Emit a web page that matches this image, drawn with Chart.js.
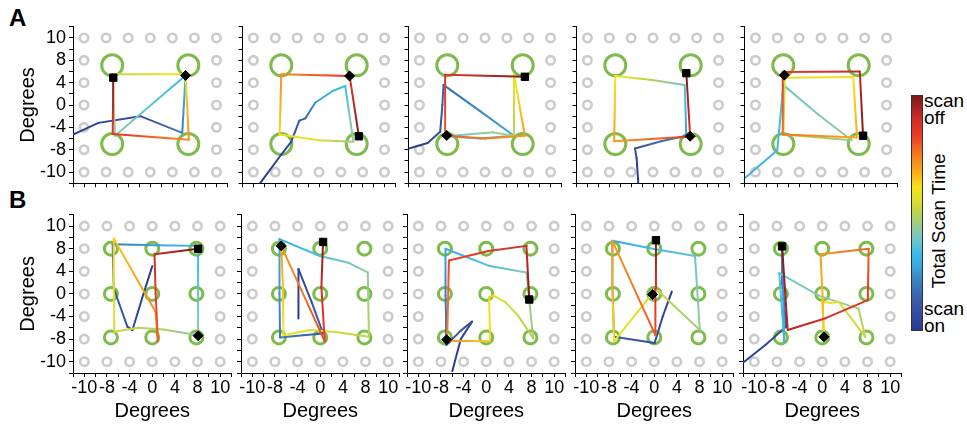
<!DOCTYPE html>
<html>
<head>
<meta charset="utf-8">
<script src="https://cdn.jsdelivr.net/npm/chart.js@4.4.1/dist/chart.umd.min.js"></script>
<style>
  body { margin: 0; background: #fff; width: 967px; height: 427px; position: relative; overflow: hidden;
         font-family: 'Liberation Sans', Arial, sans-serif; }
  canvas { position: absolute; }
  .tag { position: absolute; font-weight: bold; font-size: 24px; line-height: 24px; }
  .cb-text { position: absolute; font-size: 19px; line-height: 17px; color: #000; }
  #cbar { position: absolute; left: 911px; top: 95px; width: 10px; height: 234px; border: 1px solid #333; }
  #cbtitle { position: absolute; font-size: 19px; white-space: nowrap; transform: translate(-50%, -50%) rotate(-90deg); }
</style>
</head>
<body>
<div class="tag" style="left:9px;top:6px">A</div>
<div class="tag" style="left:9px;top:188px">B</div>
<div id="cbar"></div>
<div class="cb-text" style="left:924px;top:92px">scan<br>off</div>
<div class="cb-text" style="left:924px;top:300px">scan<br>on</div>
<div id="cbtitle" style="left:939px;top:221px">Total Scan Time</div>

<script>
// axis ticks: grid of stimulus positions, labelled in degrees
const tickPos = [-12, -8, -4, 0, 4, 8, 12];
const tickLabels = ['-10', '-8', '-4', '0', '4', '8', '10'];

// green targets
const greenAx = [-6.9, 6.9];
const greenAy = [7.1, -7.0];
const greenBx = [-7.3, 0, 7.8];
const greenBy = [8.0, 0, -7.7];

// colour scale (fraction of total scan time -> colour)
const cmapStops = [
  [0.00, '#2b3990'], [0.13, '#3a5ea9'], [0.21, '#3b80c2'], [0.27, '#3aa6dd'],
  [0.33, '#3dbde8'], [0.40, '#7cc8bd'], [0.44, '#95c997'], [0.50, '#bcd34d'],
  [0.56, '#dfe02c'], [0.61, '#f6e11a'], [0.66, '#fcb71a'], [0.71, '#f7941d'],
  [0.77, '#f26b23'], [0.83, '#eb3c25'], [0.90, '#cf2e27'], [1.00, '#7d1a1b']
];

// scan paths: [x, y, fraction of scan time]
const pathA1 = [[-14, -5.3, 0], [-9.4, -3.2, 0.04], [-1.8, -2.0, 0.08], [5.8, -5.0, 0.2], [6.4, 5.3, 0.32],
  [-6.4, -5.5, 0.42], [-6.8, 5.5, 0.52], [6.4, 5.5, 0.6], [7.0, -6.2, 0.72], [-6.8, -5.2, 0.85], [-6.7, 4.9, 1.0]];
const pathA2 = [[-10.7, -13.9, 0], [-7, -9, 0.04], [-5.1, -6.6, 0.07], [-3.6, -2.8, 0.12], [-2.5, -2.4, 0.15],
  [-0.7, 0.4, 0.25], [2.5, 2.5, 0.3], [4.8, 3.4, 0.33], [6.3, -6.6, 0.45], [0, -6.3, 0.55], [-7.2, -5.3, 0.62],
  [-6.9, 5.5, 0.72], [5.6, 5.2, 0.86], [7.3, -5.6, 1.0]];
const pathA3 = [[-14.3, -7.9, 0], [-10.5, -6.8, 0.04], [-8.2, -4.8, 0.08], [-7.8, 0, 0.12], [-7.6, 3.6, 0.16],
  [-0.9, -1.1, 0.22], [5.3, -5.5, 0.28], [-0.9, -6.0, 0.33], [-7, -5.6, 0.37], [1.5, -4.9, 0.44], [5.3, -5.5, 0.48],
  [5.3, 5.5, 0.58], [7.3, -5.5, 0.7], [0, -6.0, 0.75], [-7.2, -5.5, 0.79], [-7.3, 5.4, 0.86], [7.3, 5.05, 1.0]];
const pathA4 = [[-2.7, -13.9, 0], [-3.0, -9.5, 0.05], [-3.3, -7.8, 0.1], [1.5, -6.5, 0.17], [6.1, -5.5, 0.24],
  [5.8, 3.6, 0.38], [-0.5, 4.5, 0.5], [-6.9, 5.2, 0.6], [-7.1, -6.5, 0.7], [6.4, -5.7, 0.84], [6.8, -5.6, 0.88],
  [6.1, 5.7, 1.0]];
const pathA5 = [[-13.8, -13.0, 0.3], [-8.0, -8.1, 0.32], [-6.9, 3.6, 0.36], [-0.5, -1.7, 0.41], [5.6, -6.3, 0.45],
  [-6.9, -5.3, 0.5], [-6.6, 4.9, 0.56], [5.9, 5.0, 0.61], [6.6, -5.8, 0.68], [-7.0, -5.3, 0.76], [-7.0, 5.9, 0.84],
  [7.1, 6.0, 0.92], [7.7, -5.5, 1.0]];

const pathB1 = [[0, 4.9, 0], [-1.8, -0.8, 0.03], [-3.5, -6.4, 0.06], [-4.4, -5.8, 0.08], [-6.8, 1.0, 0.14],
  [-7.0, 8.8, 0.2], [0.5, 8.6, 0.26], [8.1, 8.5, 0.31], [8.1, 0, 0.37], [8.1, -7.3, 0.43], [2, -6.3, 0.48],
  [-2.5, -6.0, 0.5], [-6.7, -6.7, 0.54], [-6.8, 1, 0.59], [-6.8, 9.8, 0.64], [0.6, -3.2, 0.72], [1.0, -8.4, 0.78],
  [0.6, 0, 0.84], [0.4, 7.0, 0.9], [8.1, 8.0, 1.0]];
const pathB2 = [[-3.85, -4.35, 0], [-3.85, 4.4, 0.05], [-1.5, -1.5, 0.09], [0.5, -7.0, 0.13], [-3, -7.3, 0.16],
  [-7.1, -7.7, 0.19], [-7.2, 0, 0.24], [-7.2, 9.7, 0.29], [-0.06, 6.7, 0.35], [5, 5.5, 0.39], [8.4, 3.8, 0.43],
  [8.6, -7.6, 0.5], [3, -6.8, 0.53], [-1.8, -6.4, 0.56], [-6.5, -7.3, 0.6], [-6.6, 1.5, 0.65], [-6.9, 8.5, 0.7],
  [0.8, -8.4, 0.82], [0.2, 1.2, 0.9], [0.5, 9.2, 1.0]];
const pathB3 = [[-6.0, -13.7, 0], [-4.5, -8.0, 0.04], [-2.5, -4.9, 0.07], [-4.5, -6.5, 0.1], [-7.0, -9.0, 0.13],
  [-7.1, -4, 0.17], [-7.2, -0.3, 0.2], [-7.2, 8.0, 0.28], [0.4, 5.0, 0.35], [7.1, 3.8, 0.41], [8.3, -7.9, 0.48],
  [5.6, -3.8, 0.52], [3.3, -1.4, 0.55], [1.3, -0.3, 0.57], [0.5, -0.55, 0.58], [0.7, -8.4, 0.63], [-6.9, -8.3, 0.72],
  [-6.6, 5.9, 0.82], [0.4, 7.6, 0.86], [7.1, 8.5, 0.9], [7.6, -1.0, 1.0]];
const pathB4 = [[3.1, 0.4, 0], [1.5, -4, 0.04], [0.06, -8.7, 0.07], [-7.1, -7.6, 0.13], [-7.4, 1.5, 0.2],
  [-7.4, 9.4, 0.28], [0.2, 7.9, 0.33], [7.2, 6.7, 0.37], [8.05, -6.4, 0.45], [0.3, 0.9, 0.53], [-7.1, -8.4, 0.6],
  [-7.4, 1.5, 0.66], [-7.4, 9.4, 0.7], [0.2, -7.3, 0.8], [0.2, 0.9, 0.88], [0.3, 9.5, 1.0]];
const pathB5 = [[-14, -12.2, 0], [-10, -9, 0.04], [-6.4, -5.8, 0.08], [-7.0, 1.6, 0.14], [-7.1, 8.2, 0.2],
  [-6.7, -8.4, 0.3], [-7.6, 3.7, 0.36], [-0.6, -0.3, 0.42], [6.4, -2.6, 0.47], [7.6, -7.6, 0.52], [2.9, -1.4, 0.56],
  [1.5, -1.6, 0.58], [0, -1.3, 0.6], [0.3, -7.6, 0.63], [0.1, -1.5, 0.66], [-0.3, 7.0, 0.7], [8.2, 8.0, 0.78],
  [8.05, -1.1, 0.85], [0.6, -4.3, 0.89], [-6.1, -6.4, 0.93], [-7.1, 8.4, 1.0]];

// end (square) and diamond markers
const squareA = [[-6.7, 4.9], [7.3, -5.6], [7.3, 5.05], [6.1, 5.7], [7.7, -5.5]];
const diamondA = [[6.4, 5.3], [5.6, 5.2], [-7.0, -5.45], [6.8, -5.6], [-6.7, 5.35]];
const squareB = [[8.1, 8.0], [0.5, 9.2], [7.6, -1.0], [0.3, 9.5], [-7.1, 8.4]];
const diamondB = [[8.1, -7.4], [-6.9, 8.5], [-7.0, -8.1], [-0.3, -0.1], [0.3, -7.6]];

// layout
const panelLeft = [73, 241, 407, 575, 743];
const rowTop = [25, 213];
const PLOT = 160, PADT = 12, PADR = 8;
const FONT = "'Liberation Sans', Arial, sans-serif";

document.getElementById('cbar').style.background =
  'linear-gradient(to top, ' + cmapStops.map(s => `${s[1]} ${(s[0] * 100).toFixed(1)}%`).join(', ') + ')';

function hexRgb(h) {
  return [parseInt(h.slice(1, 3), 16), parseInt(h.slice(3, 5), 16), parseInt(h.slice(5, 7), 16)];
}
function cmap(t) {
  t = Math.max(0, Math.min(1, t));
  for (let i = 1; i < cmapStops.length; i++) {
    if (t <= cmapStops[i][0]) {
      const [t0, c0] = cmapStops[i - 1];
      const [t1, c1] = cmapStops[i];
      const f = (t - t0) / (t1 - t0);
      const a = hexRgb(c0), b = hexRgb(c1);
      return `rgb(${Math.round(a[0] + (b[0] - a[0]) * f)},${Math.round(a[1] + (b[1] - a[1]) * f)},${Math.round(a[2] + (b[2] - a[2]) * f)})`;
    }
  }
  return cmapStops[cmapStops.length - 1][1];
}
function segColor(path) {
  return c => {
    const p = path[c.p0DataIndex], q = path[c.p1DataIndex];
    if (!p || !q) return cmap(0.5);
    if (![c.p0.x, c.p0.y, c.p1.x, c.p1.y].every(Number.isFinite)) return cmap((p[2] + q[2]) / 2);
    const g = c.chart.ctx.createLinearGradient(c.p0.x, c.p0.y, c.p1.x, c.p1.y);
    g.addColorStop(0, cmap(p[2]));
    cmapStops.forEach(s => {
      if (s[0] > p[2] && s[0] < q[2]) g.addColorStop((s[0] - p[2]) / (q[2] - p[2]), s[1]);
    });
    g.addColorStop(1, cmap(q[2]));
    return g;
  };
}
function tickText(v) {
  const i = tickPos.indexOf(v);
  return i < 0 ? '' : tickLabels[i];
}

// grey rings on the outer ring of the grid
const greyPts = [];
tickPos.forEach(x => tickPos.forEach(y => {
  if (Math.abs(x) === 12 || Math.abs(y) === 12) greyPts.push({ x, y });
}));

const rows = [
  { paths: [pathA1, pathA2, pathA3, pathA4, pathA5], squares: squareA, diamonds: diamondA,
    gx: greenAx, gy: greenAy, gr: 10.5 },
  { paths: [pathB1, pathB2, pathB3, pathB4, pathB5], squares: squareB, diamonds: diamondB,
    gx: greenBx, gy: greenBy, gr: 6.5 }
];

function makePanel(r, col) {
  const row = rows[r];
  const yw = col === 0 ? 73 : 12;
  const xh = r === 0 ? 12 : 54;
  const cv = document.createElement('canvas');
  const w = yw + PLOT + PADR, h = PADT + PLOT + xh;
  cv.width = w; cv.height = h;
  cv.style.width = w + 'px'; cv.style.height = h + 'px';
  cv.style.left = (panelLeft[col] - yw) + 'px';
  cv.style.top = (rowTop[r] - PADT) + 'px';
  document.body.appendChild(cv);

  const greens = [];
  row.gx.forEach(x => row.gy.forEach(y => greens.push({ x, y })));
  const path = row.paths[col];

  const axisCommon = {
    type: 'linear', min: -14, max: 14,
    border: { display: true, color: '#000', width: 1 },
    grid: { display: true, drawOnChartArea: false, drawTicks: true, tickLength: 4, color: '#000' }
  };

  new Chart(cv, {
    type: 'scatter',
    data: {
      datasets: [
        { data: [{ x: row.squares[col][0], y: row.squares[col][1] }], pointStyle: 'rect', pointRadius: 5.2,
          backgroundColor: '#000', borderColor: '#000', borderWidth: 1, order: 0 },
        { data: [{ x: row.diamonds[col][0], y: row.diamonds[col][1] }], pointStyle: 'rectRot', pointRadius: 5,
          backgroundColor: '#000', borderColor: '#000', borderWidth: 1, order: 0 },
        { data: path.map(p => ({ x: p[0], y: p[1] })), showLine: true, pointRadius: 0, borderWidth: 2,
          borderColor: cmap(0.5), borderCapStyle: 'round', borderJoinStyle: 'round', tension: 0,
          segment: { borderColor: segColor(path) }, order: 1 },
        { data: greens, pointRadius: row.gr, borderWidth: 3, borderColor: '#7cbb4c',
          backgroundColor: 'rgba(0,0,0,0)', order: 2 },
        { data: greyPts, pointRadius: 4.2, borderWidth: 2.6, borderColor: '#cbcbcb',
          backgroundColor: '#ffffff', order: 3 }
      ]
    },
    options: {
      responsive: false,
      animation: false,
      events: [],
      layout: { padding: { top: PADT, right: PADR, left: 0, bottom: 0 } },
      plugins: { legend: { display: false }, tooltip: { enabled: false } },
      scales: {
        x: Object.assign({}, axisCommon, {
          afterFit: s => { s.height = xh; },
          ticks: { stepSize: 2, autoSkip: false, maxRotation: 0, minRotation: 0, padding: 0, color: '#000',
                   font: { family: FONT, size: 18 }, callback: v => r === 1 ? tickText(v) : '' },
          title: { display: r === 1, text: 'Degrees', color: '#000', font: { family: FONT, size: 20 },
                   padding: { top: 0, bottom: 4 } }
        }),
        y: Object.assign({}, axisCommon, {
          afterFit: s => { s.width = yw; },
          ticks: { stepSize: 2, autoSkip: false, padding: 3, color: '#000',
                   font: { family: FONT, size: 18 }, callback: v => col === 0 ? tickText(v) : '' },
          title: { display: col === 0, text: 'Degrees', color: '#000', font: { family: FONT, size: 20 },
                   padding: { top: 16, bottom: 0 } }
        })
      }
    }
  });
}

for (let r = 0; r < 2; r++) {
  for (let c = 0; c < 5; c++) makePanel(r, c);
}
</script>
</body>
</html>
